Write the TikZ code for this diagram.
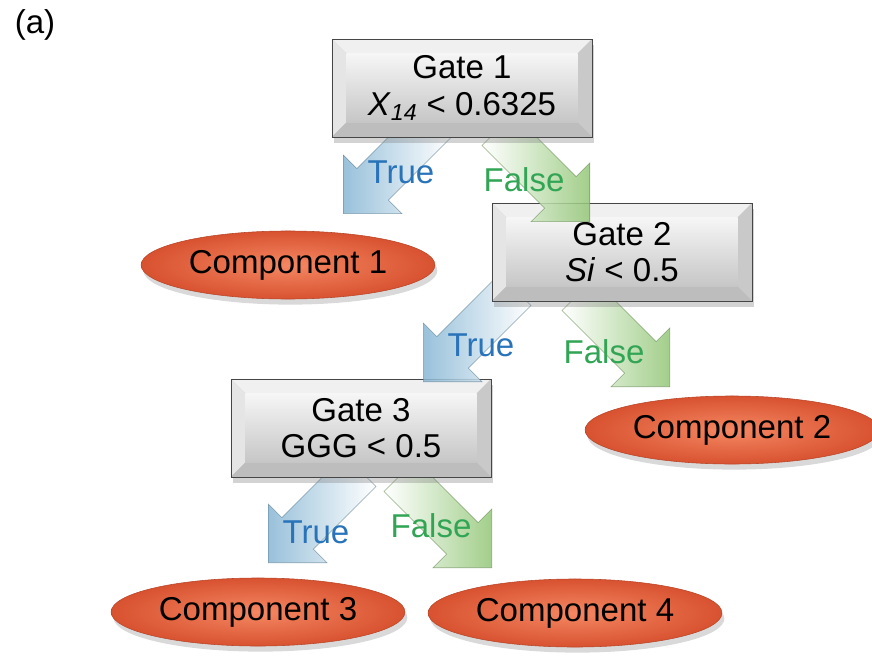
\documentclass[tikz,border=0pt]{standalone}
\usepackage{fontspec}
\setmainfont{Liberation Sans}
\usetikzlibrary{shapes.geometric,shapes.arrows,shadows}
\definecolor{gateface}{RGB}{246,246,246}
\definecolor{gatebot}{RGB}{198,198,198}
\definecolor{compin}{RGB}{245,135,98}
\definecolor{compout}{RGB}{216,82,48}
\definecolor{truetxt}{RGB}{40,115,185}
\definecolor{falsetxt}{RGB}{50,165,85}
\definecolor{truearr}{RGB}{135,182,212}
\definecolor{falsearr}{RGB}{146,198,118}
\newcommand{\gbev}{0.36cm}

\begin{document}
\begin{tikzpicture}[x=0.025cm,y=-0.025cm,every node/.style={font=\fontsize{23.5}{26}\selectfont,align=center},
  gatebox/.style={rectangle,minimum width=6.5cm,minimum height=2.45cm,draw=gray!55!black,fill=gatebot,
    drop shadow={shadow xshift=0.6mm,shadow yshift=-1.6mm,opacity=0.35},
    path picture={
      \coordinate (pnw) at (path picture bounding box.north west); \coordinate (pne) at (path picture bounding box.north east);
      \coordinate (psw) at (path picture bounding box.south west); \coordinate (pse) at (path picture bounding box.south east);
      \fill[gray!12] (pnw) -- (pne) -- ([xshift=-\gbev,yshift=-\gbev]pne) -- ([xshift=\gbev,yshift=-\gbev]pnw) -- cycle;
      \fill[gray!20] (pnw) -- (psw) -- ([xshift=\gbev,yshift=\gbev]psw) -- ([xshift=\gbev,yshift=-\gbev]pnw) -- cycle;
      \fill[gray!42] (pne) -- (pse) -- ([xshift=-\gbev,yshift=\gbev]pse) -- ([xshift=-\gbev,yshift=-\gbev]pne) -- cycle;
      \fill[gray!52] (psw) -- (pse) -- ([xshift=-\gbev,yshift=\gbev]pse) -- ([xshift=\gbev,yshift=\gbev]psw) -- cycle;
      \shade[top color=gateface,bottom color=gatebot] ([xshift=\gbev,yshift=-\gbev]pnw) rectangle ([xshift=-\gbev,yshift=\gbev]pse);
    }},
  comp/.style={ellipse,minimum width=6.95cm,minimum height=1.7cm,inner color=compin,outer color=compout,draw=compout!85!black,
    drop shadow={shadow xshift=0.6mm,shadow yshift=-1.4mm,opacity=0.3}},
  barrow/.style={single arrow,single arrow head extend=0.48cm,inner xsep=0pt,inner ysep=0.55cm,minimum height=3.25cm,anchor=tip,fill opacity=0.85,draw opacity=0.7},
  truearrow/.style={barrow,rotate=-135,left color=truearr,right color=white,draw=truearr!70!black},
  falsearrow/.style={barrow,rotate=-45,left color=white,right color=falsearr,draw=falsearr!70!black},
  truelbl/.style={text=truetxt,inner sep=1pt},
  falselbl/.style={text=falsetxt,inner sep=1pt}]
\useasboundingbox (0,0) rectangle (872,669);
\node (lbl) at (35,25) {(a)};
% level 3 first, so the upper boxes cover the arrow tails
\node[truearrow] (t3) at (268,563) {}; \node[falsearrow] (f3) at (492,568) {};
\node[gatebox] (g3) at (361,428) {Gate 3\\GGG < 0.5};
\node[truearrow] (t2) at (423,382) {}; \node[falsearrow] (f2) at (670,387) {};
\node[gatebox] (g2) at (622,252) {Gate 2\\\textit{Si} < 0.5};
\node[truearrow] (t1) at (343,214) {}; \node[falsearrow] (f1) at (590,222) {};
\node[gatebox] (g1) at (462,88) {Gate 1\\\textit{X}\textsubscript{\textit{14}} < 0.6325};
% leaves
\node[comp] (c1) at (288,265) {Component 1};
\node[comp] (c2) at (732,430) {Component 2};
\node[comp] (c3) at (258,612) {Component 3};
\node[comp] (c4) at (575,613) {Component 4};
% branch labels
\node[truelbl] (lt1) at (401,172) {True}; \node[falselbl] (lf1) at (524,180) {False};
\node[truelbl] (lt2) at (481,345) {True}; \node[falselbl] (lf2) at (604,352) {False};
\node[truelbl] (lt3) at (316,532) {True}; \node[falselbl] (lf3) at (431,526) {False};
\end{tikzpicture}
\end{document}
